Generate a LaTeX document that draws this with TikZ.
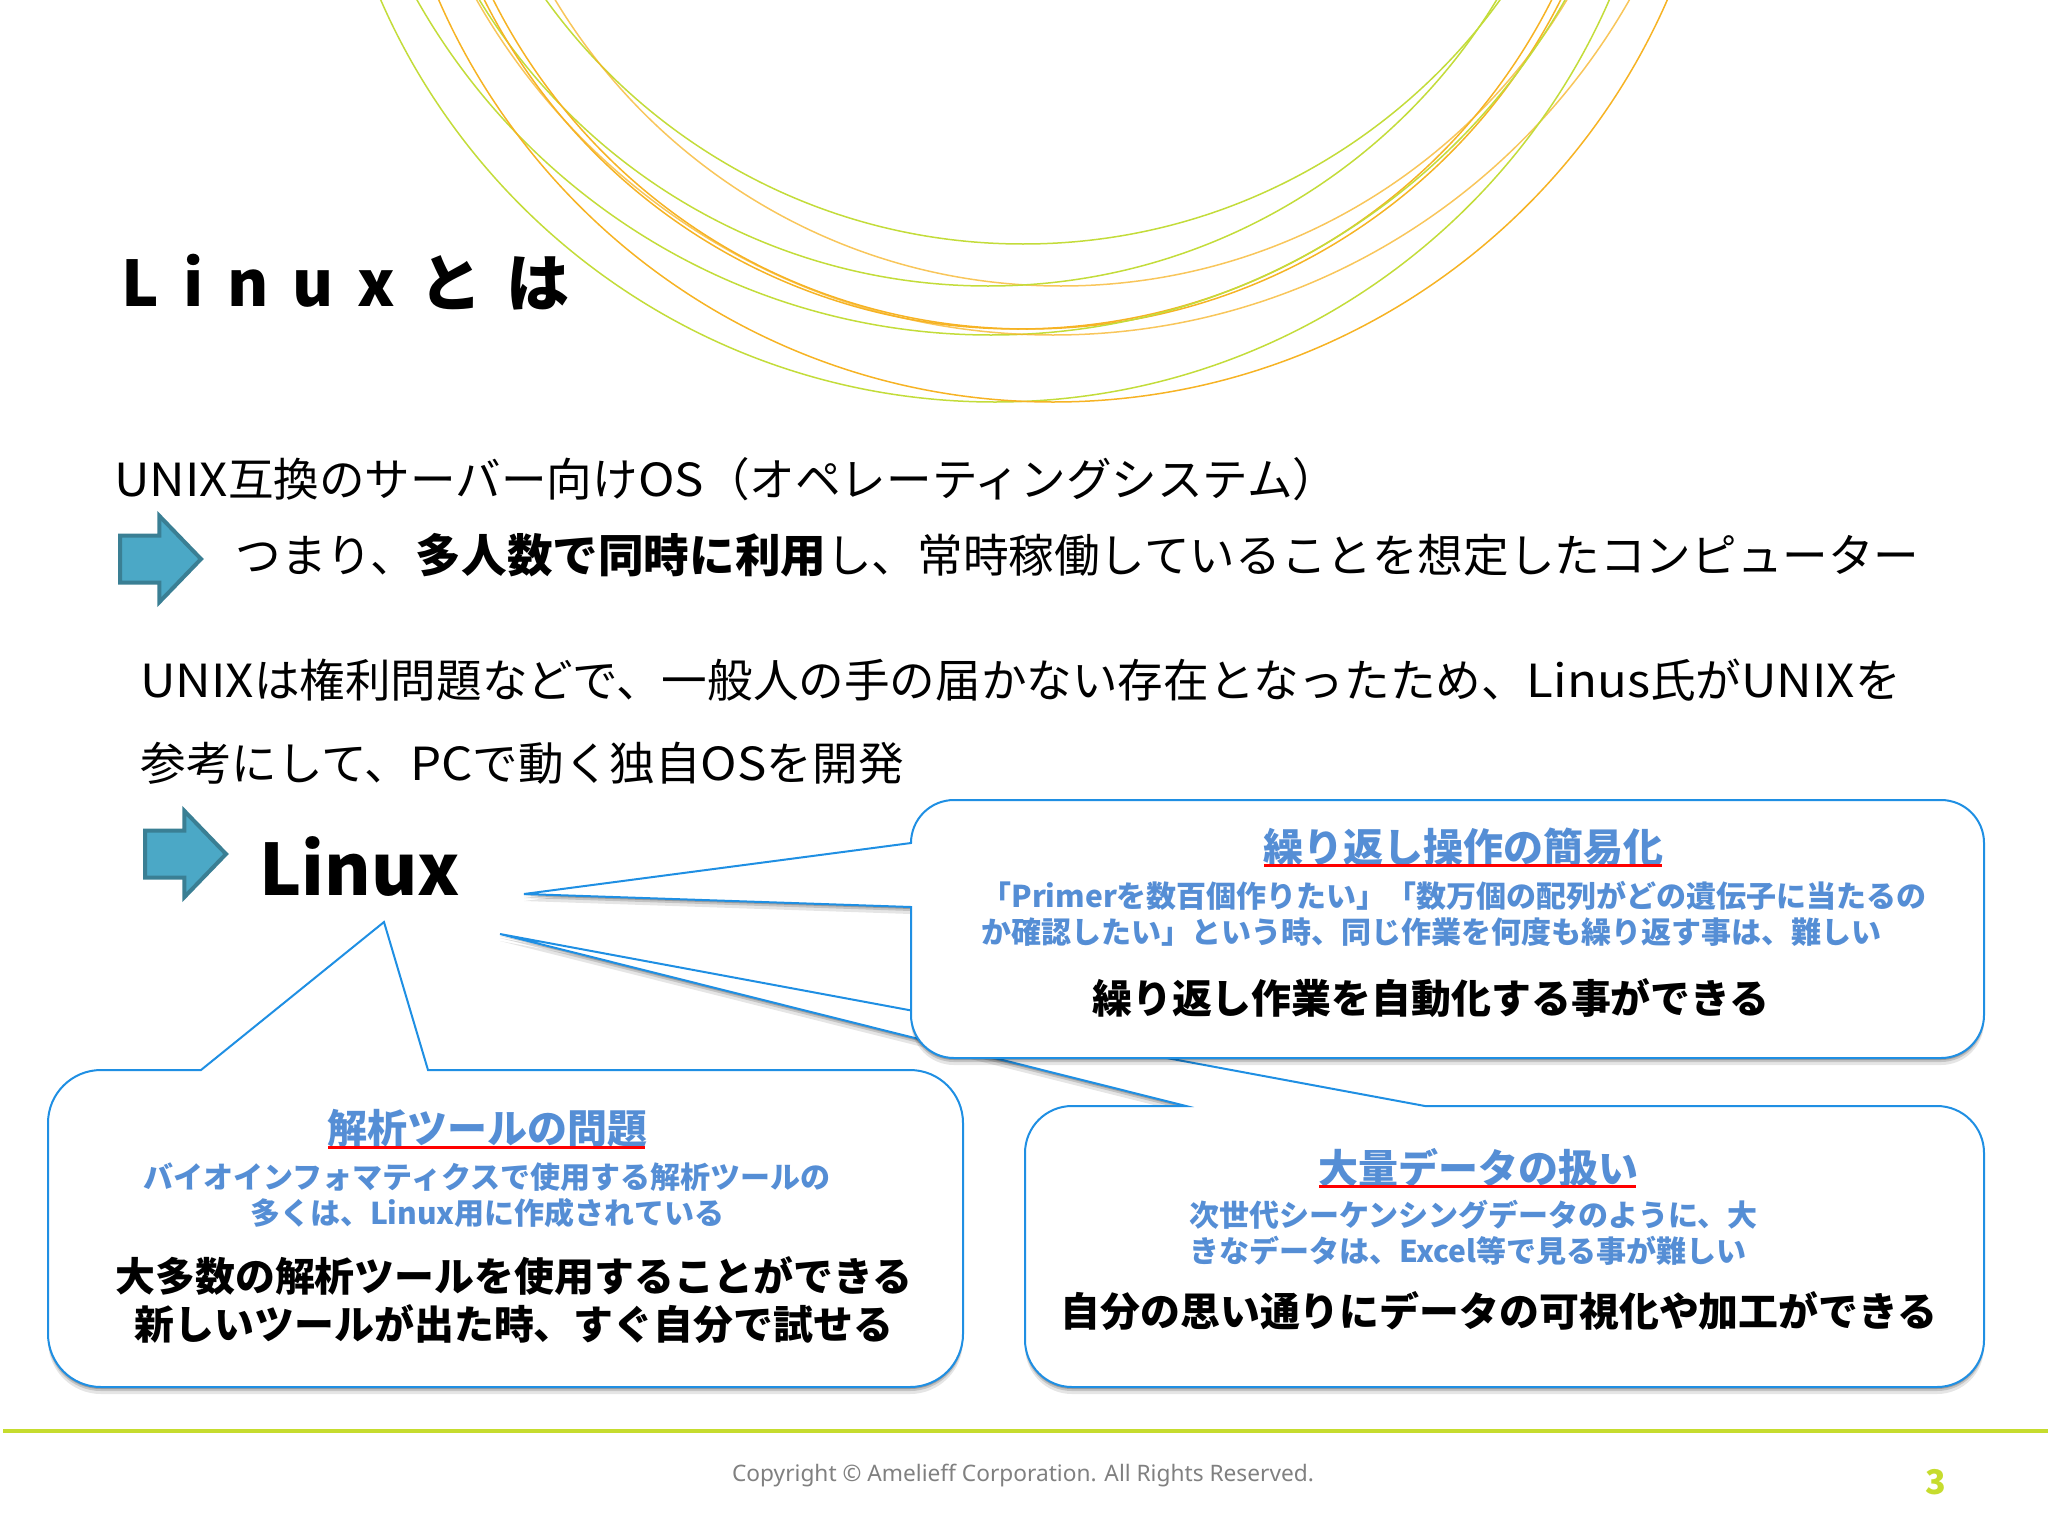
\documentclass[tikz,border=0pt]{standalone}
\usepackage{fontspec}
\setmainfont{Noto Sans CJK JP}
\newfontfamily\footFont{Noto Sans}
\newfontfamily\latFont[FakeStretch=1.08]{Noto Sans CJK JP}
\usetikzlibrary{shapes.arrows,shadows}
\newcommand{\fs}[1]{\fontsize{#1pt}{#1pt}\selectfont}
\newcommand{\lat}[1]{{\latFont #1}}
\definecolor{ringGreenCol}{HTML}{C3DC3A}
\definecolor{ringOrangeCol}{HTML}{F6B324}
\definecolor{lineBlue}{HTML}{1F8FE3}
\definecolor{textBlue}{HTML}{558ED5}
\definecolor{footGreen}{HTML}{C6DC2E}
\definecolor{arrowEdge}{HTML}{3A7F94}
\definecolor{arrowFill}{HTML}{4BA8C6}
\begin{document}
\begin{tikzpicture}
        [x=0.5pt, y=-0.5pt,
        ringGreen/.style={draw=ringGreenCol, line width=0.75pt},
        ringOrange/.style={draw=ringOrangeCol, line width=0.75pt},
        mainText/.style={anchor=west, inner sep=0pt, font=\fs{22.8}},
        arrowMark/.style={single arrow, draw=arrowEdge, fill=arrowFill, line width=2pt, outer sep=0pt, inner sep=0pt,
            text height=21.5pt, text depth=0pt, minimum height=40.5pt,
            single arrow head extend=9.8pt, single arrow tip angle=92, anchor=tail},
        callout/.style={draw=lineBlue, line width=1pt, fill=white,
            general shadow={shadow yshift=-1pt, fill=black, opacity=0.2},
            general shadow={shadow yshift=-2pt, fill=black, opacity=0.15},
            general shadow={shadow yshift=-3.5pt, fill=black, opacity=0.1}},
        headText/.style={inner sep=0pt, font=\fs{20}\bfseries, text=textBlue},
        bodyText/.style={inner sep=0pt, font=\fs{15}\bfseries, text=textBlue},
        boldText/.style={inner sep=0pt, font=\fs{19.95}\bfseries},
        redLine/.style={draw=red, line width=1.5pt}]
        \useasboundingbox (0,0) rectangle (2048,1536);

        \begin{scope}
        \clip (0,0) rectangle (2048,1536);
        \draw[ringGreen] (1023,-344) circle[radius=588];
        \draw[ringOrange, opacity=0.75] (1061,-304) circle[radius=590];
        \draw[ringGreen] (988,-309) circle[radius=595];
        \draw[ringOrange] (1027,-268) circle[radius=597];
        \draw[ringOrange] (1018,-268) circle[radius=597];
        \draw[ringGreen] (991,-324) circle[radius=659];
        \draw[ringOrange, opacity=0.75] (1053,-328) circle[radius=663];
        \draw[ringGreen] (995,-268) circle[radius=670];
        \draw[ringOrange] (1053,-268) circle[radius=670];
        \end{scope}

        \node[inner sep=0pt, anchor=west, font=\fs{31.5}\bfseries] (title) at (121,282) {\spaceskip=12pt L i n u x と は};
        \node[mainText] (lineOne) at (114,479) {\lat{UNIX}互換のサーバー向け\lat{OS}（オペレーティングシステム）};
        \node[mainText] (lineTwo) at (235,555) {つまり、\textbf{多人数で同時に利用}し、常時稼働していることを想定したコンピューター};
        \node[mainText] (lineThree) at (140,680) {\lat{UNIX}は権利問題などで、一般人の手の届かない存在となったため、\lat{Linus}氏が\lat{UNIX}を};
        \node[mainText] (lineFour) at (140,763) {参考にして、\lat{PC}で動く独自\lat{OS}を開発};

        \node[arrowMark] (arrowOne) at (120,559) {};
        \node[arrowMark] (arrowTwo) at (145,854) {};
        \node[inner sep=0pt, anchor=west, font=\fs{35.5}\bfseries] (linux) at (259,866) {Linux};

        \coordinate (tipOne) at (524,894);
        \coordinate (tipTwo) at (384,922);
        \coordinate (tipThree) at (500,934);

        \draw[callout] (1186,1106) -- (tipThree) -- (1425,1106) -- (1937,1106) arc[start angle=-90, end angle=0, radius=47]
            -- (1984,1340) arc[start angle=0, end angle=90, radius=47]
            -- (1072,1387) arc[start angle=90, end angle=180, radius=47]
            -- (1025,1153) arc[start angle=180, end angle=270, radius=47] -- cycle;
        \draw[callout] (911,843) -- (tipOne) -- (911,907) -- (911,1015) arc[start angle=180, end angle=90, radius=43]
            -- (1941,1058) arc[start angle=90, end angle=0, radius=43]
            -- (1984,843) arc[start angle=0, end angle=-90, radius=43]
            -- (954,800) arc[start angle=-90, end angle=-180, radius=43] -- cycle;
        \draw[callout] (201,1070) -- (tipTwo) -- (428,1070) -- (910,1070) arc[start angle=-90, end angle=0, radius=53]
            -- (963,1334) arc[start angle=0, end angle=90, radius=53]
            -- (101,1387) arc[start angle=90, end angle=180, radius=53]
            -- (48,1123) arc[start angle=180, end angle=270, radius=53] -- cycle;

        \node[headText] (headOne) at (1463,847) {繰り返し操作の簡易化};
        \node[bodyText, anchor=west] (bodyOneA) at (981,896) {「Primerを数百個作りたい」「数万個の配列がどの遺伝子に当たるの};
        \node[bodyText, anchor=west] (bodyOneB) at (981,932) {か確認したい」という時、同じ作業を何度も繰り返す事は、難しい};
        \node[boldText] (boldOne) at (1431,998) {繰り返し作業を自動化する事ができる};
        \draw[redLine] (1264,865) -- (1662,865);

        \node[headText] (headTwo) at (487,1128) {解析ツールの問題};
        \node[bodyText] (bodyTwoA) at (487,1177) {バイオインフォマティクスで使用する解析ツールの};
        \node[bodyText] (bodyTwoB) at (487,1213) {多くは、Linux用に作成されている};
        \node[boldText] (boldTwoA) at (514,1276) {大多数の解析ツールを使用することができる};
        \node[boldText] (boldTwoB) at (514,1324) {新しいツールが出た時、すぐ自分で試せる};
        \draw[redLine] (328,1147) -- (645,1147);

        \node[headText] (headThree) at (1478,1168) {大量データの扱い};
        \node[bodyText, anchor=west] (bodyThreeA) at (1189,1215) {次世代シーケンシングデータのように、大};
        \node[bodyText, anchor=west] (bodyThreeB) at (1189,1251) {きなデータは、Excel等で見る事が難しい};
        \node[boldText] (boldThree) at (1499,1311) {自分の思い通りにデータの可視化や加工ができる};
        \draw[redLine] (1319,1186) -- (1636,1186);

        \coordinate (footLeft) at (3,1431);
        \coordinate (footRight) at (2048,1431);
        \draw[draw=footGreen, line width=2pt] (footLeft) -- (footRight);
        \node[inner sep=0pt, text=gray, font=\footFont\fs{11.35}] (copyright) at (1023,1476) {Copyright © Amelieff Corporation. All Rights Reserved.};
        \node[inner sep=0pt, text=footGreen, font=\fs{17}\bfseries] (pageNum) at (1936,1482) {3};
    \end{tikzpicture}
\end{document}
